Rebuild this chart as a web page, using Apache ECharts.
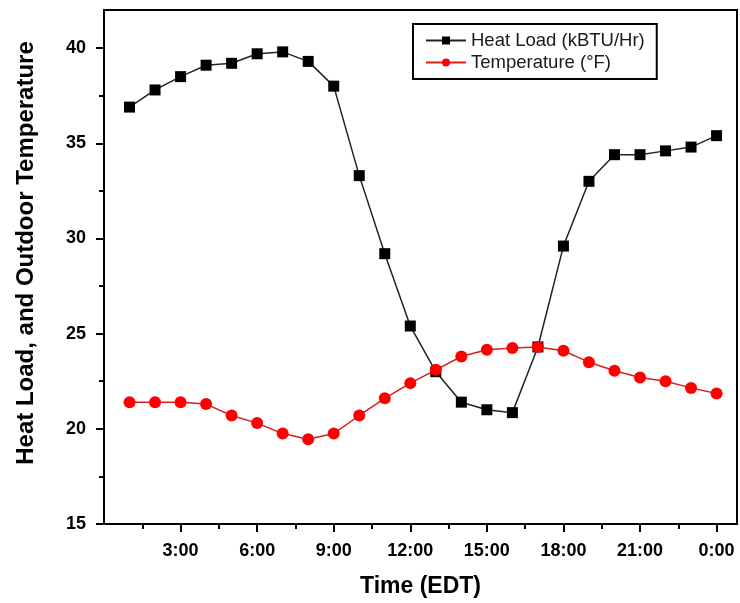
<!DOCTYPE html>
<html>
<head>
<meta charset="utf-8">
<script src="https://cdn.jsdelivr.net/npm/echarts@6/dist/echarts.min.js"></script>
<style>
  html, body { margin: 0; padding: 0; background: #fff; }
  #chart { width: 740px; height: 603px; }
</style>
</head>
<body>
<div id="chart"></div>
<script>
// Hour of day (24 = midnight)
const hours = [1, 2, 3, 4, 5, 6, 7, 8, 9, 10, 11, 12, 13, 14, 15, 16, 17, 18, 19, 20, 21, 22, 23, 24];
// Heat load, kBTU/Hr
const heatLoad = [36.9, 37.8, 38.5, 39.1, 39.2, 39.7, 39.8, 39.3, 38.0, 33.3, 29.2, 25.4,
                  23.0, 21.4, 21.0, 20.85, 24.3, 29.6, 33.0, 34.4, 34.4, 34.6, 34.8, 35.4];
// Outdoor temperature
const temperature = [21.4, 21.4, 21.4, 21.3, 20.7, 20.3, 19.75, 19.45, 19.75, 20.7, 21.6, 22.4,
                     23.1, 23.8, 24.15, 24.25, 24.3, 24.1, 23.5, 23.05, 22.7, 22.5, 22.15, 21.85];
// Axis ticks
const xTicks = [3, 6, 9, 12, 15, 18, 21, 24];
const xMinorTicks = [1.5, 4.5, 7.5, 10.5, 13.5, 16.5, 19.5, 22.5];
const yTicks = [15, 20, 25, 30, 35, 40];
const yMinorTicks = [17.5, 22.5, 27.5, 32.5, 37.5];

const seriesNames = ['Heat Load (kBTU/Hr)', 'Temperature (\u00B0F)'];

const FONT = '"Liberation Sans", Arial, sans-serif';
const chart = echarts.init(document.getElementById('chart'));

const grid = { left: 104, right: 3, top: 10, bottom: 78, show: true, borderColor: '#000', borderWidth: 2 };
const xRange = { min: 0, max: 24.8 };
const yRange = { min: 15, max: 42 };

const axisLine = { show: true, onZero: false, lineStyle: { color: '#000', width: 2 } };
const tickFont = { fontFamily: FONT, fontSize: 18, fontWeight: 'bold', color: '#000' };

chart.setOption({
  animation: false,
  backgroundColor: '#fff',
  grid: grid,
  legend: {
    left: 413, top: 24,
    orient: 'vertical',
    itemWidth: 40, itemHeight: 10, itemGap: 3,
    padding: [7, 12, 7, 12],
    borderColor: '#000', borderWidth: 2,
    textStyle: { fontFamily: FONT, fontSize: 18.5, color: '#1a1a1a' },
    data: seriesNames
  },
  xAxis: [{
    type: 'value', ...xRange, interval: 3,
    name: 'Time (EDT)', nameLocation: 'middle', nameGap: 51,
    nameTextStyle: { fontFamily: FONT, fontSize: 23, fontWeight: 'bold', color: '#000' },
    axisLine: axisLine,
    axisTick: { show: true, customValues: xTicks, length: 8, lineStyle: { color: '#000', width: 2 } },
    axisLabel: {
      customValues: xTicks, margin: 18, ...tickFont,
      formatter: v => (v % 24) + ':00'
    },
    splitLine: { show: false }
  }, {
    // minor ticks along the time axis
    type: 'value', ...xRange, position: 'bottom',
    axisLine: { show: false },
    axisTick: { show: true, customValues: xMinorTicks, length: 5, lineStyle: { color: '#000', width: 2 } },
    axisLabel: { show: false },
    splitLine: { show: false }
  }],
  yAxis: [{
    type: 'value', ...yRange, interval: 5,
    name: 'Heat Load, and Outdoor Temperature', nameLocation: 'middle', nameGap: 66,
    nameTextStyle: { fontFamily: FONT, fontSize: 24, fontWeight: 'bold', color: '#000', padding: [0, 0, 0, 28] },
    axisLine: axisLine,
    axisTick: { show: true, customValues: yTicks, length: 8, lineStyle: { color: '#000', width: 2 } },
    axisLabel: { customValues: yTicks, margin: 18, ...tickFont },
    splitLine: { show: false }
  }, {
    // minor ticks along the value axis
    type: 'value', ...yRange, position: 'left',
    axisLine: { show: false },
    axisTick: { show: true, customValues: yMinorTicks, length: 5, lineStyle: { color: '#000', width: 2 } },
    axisLabel: { show: false },
    splitLine: { show: false }
  }],
  series: [{
    name: seriesNames[0],
    type: 'line',
    data: hours.map((h, i) => [h, heatLoad[i]]),
    symbol: 'rect', symbolSize: 11,
    itemStyle: { color: '#000' },
    lineStyle: { color: '#222', width: 1.5 },
    z: 3
  }, {
    name: seriesNames[1],
    type: 'line',
    data: hours.map((h, i) => [h, temperature[i]]),
    symbol: 'circle', symbolSize: 12,
    itemStyle: { color: '#ff0000' },
    lineStyle: { color: '#d42020', width: 1.5 },
    z: 4
  }]
});
</script>
</body>
</html>
